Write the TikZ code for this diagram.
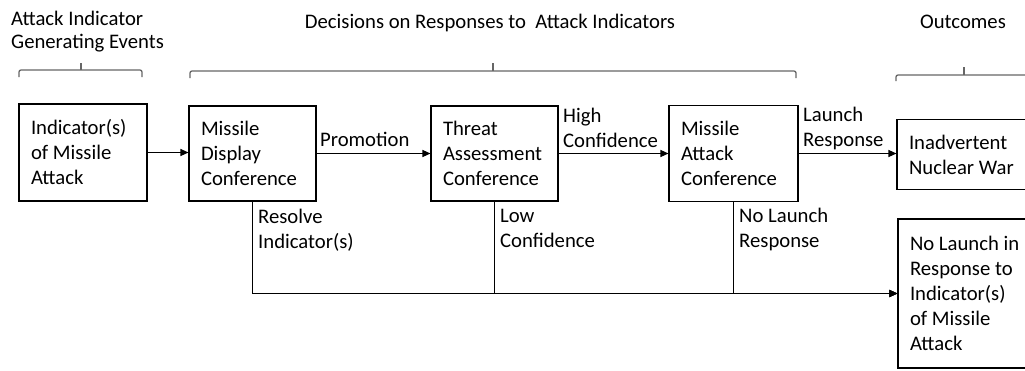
\documentclass[tikz,border=0pt]{standalone}
\usepackage{fontspec}
\setmainfont{Carlito}
\usetikzlibrary{arrows.meta}
\tikzset{
  stagebox/.style={draw,line width=1.1pt,align=flush left,inner xsep=12pt,inner ysep=0pt,
    font=\fontsize{20.7}{25}\selectfont},
  lbl/.style={align=flush left,inner sep=0pt,anchor=base west,font=\fontsize{20.7}{25}\selectfont},
  bracket/.style={draw=black!60,line width=1.3pt,rounded corners=2pt},
  flow/.style={->,line width=1.1pt},
}
\begin{document}
\begin{tikzpicture}[x=1pt,y=-1pt,>={Triangle[length=8pt,width=7pt]}]
\useasboundingbox (0,0) rectangle (1025,370);
% column headings
\node[lbl,font=\fontsize{20.7}{23}\selectfont] (hdevt) at (11,48) {Attack Indicator\\Generating Events};
\node[lbl,anchor=base] (hddec) at (490,28) {Decisions on Responses to\ \ Attack Indicators};
\node[lbl,anchor=base] (hdout) at (963,28) {Outcomes};
% brackets under the headings
\draw[bracket] (19,77) -- (19,70) -- (142,70) -- (142,77);
\draw[bracket] (81,70) -- (81,63);
\draw[bracket] (190,78) -- (190,71) -- (796,71) -- (796,78);
\draw[bracket] (493,71) -- (493,63);
\draw[bracket] (896,81) -- (896,75) -- (1030,75);
\draw[bracket] (964,75) -- (964,67);
% boxes
\node[stagebox,text width=104pt,minimum height=97pt] (ind) at (83,152.5) {Indicator(s)\\of Missile\\Attack};
\node[stagebox,text width=103pt,minimum height=95pt] (mdc) at (252.5,153.5) {Missile\\Display\\Conference};
\node[stagebox,text width=103pt,minimum height=95pt] (tac) at (494.5,153.5) {Threat\\Assessment\\Conference};
\node[stagebox,text width=105pt,minimum height=96pt] (mac) at (733.5,153.5) {Missile\\Attack\\Conference};
\node[stagebox,text width=120pt,minimum height=70pt] (inw) at (969,154.5) {Inadvertent\\Nuclear War};
\node[stagebox,text width=120pt,minimum height=149pt] (nlr) at (970,293.5) {No Launch in\\Response to\\Indicator(s)\\of Missile\\Attack};
% connectors
\draw[flow] (ind.east) -- (ind.east -| mdc.west);
\draw[flow] (mdc.east) -- (mdc.east -| tac.west);
\draw[flow] (tac.east) -- (tac.east -| mac.west);
\draw[flow] (mac.east) -- (mac.east -| inw.west);
\draw[flow] (mdc.south) |- (nlr.west);
\draw[flow] (tac.south) |- (nlr.west);
\draw[flow] (mac.south) |- (nlr.west);
% connector labels
\node[lbl] (promo) at (320,146) {Promotion};
\node[lbl] (hiconf) at (563,147) {High\\Confidence};
\node[lbl] (launch) at (803,146) {Launch\\Response};
\node[lbl] (resolve) at (258,248) {Resolve\\Indicator(s)};
\node[lbl] (loconf) at (500,247) {Low\\Confidence};
\node[lbl] (nolaunch) at (739,247) {No Launch\\Response};
\end{tikzpicture}
\end{document}
